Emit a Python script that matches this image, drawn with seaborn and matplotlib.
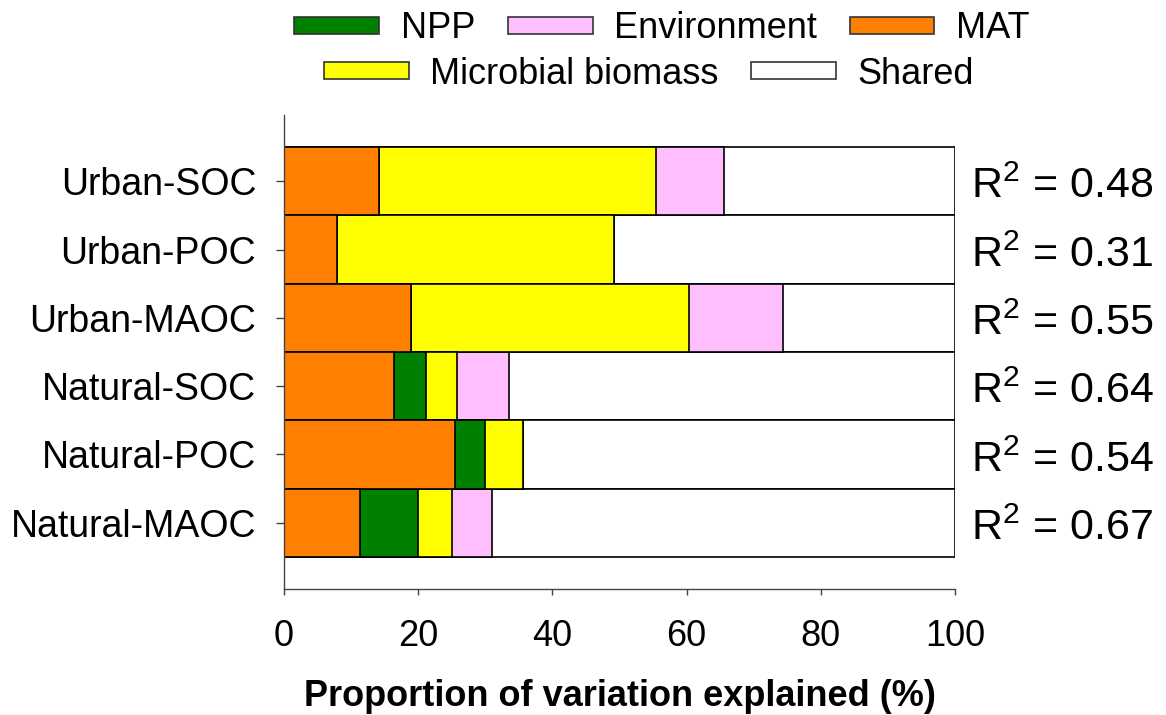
import matplotlib
matplotlib.use("Agg")
import matplotlib.pyplot as plt
from matplotlib.patches import Patch
import numpy as np
import pandas as pd
import seaborn as sns

# Variance partitioning results (% of variation explained)
categories = ["Urban-SOC", "Urban-POC", "Urban-MAOC",
              "Natural-SOC", "Natural-POC", "Natural-MAOC"]
mat = [14.1, 7.9, 18.9, 16.4, 25.5, 11.4]
npp = [0.0, 0.0, 0.0, 4.8, 4.4, 8.5]
microbial = [41.3, 41.3, 41.4, 4.6, 5.7, 5.1]
environment = [10.2, 0.0, 14.0, 7.7, 0.0, 6.0]
shared = [34.4, 50.8, 25.7, 66.5, 64.4, 69.0]
r2_labels = ["0.48", "0.31", "0.55", "0.64", "0.54", "0.67"]

colors = {
    "NPP": "#008000",
    "Environment": "#FFBFFF",
    "MAT": "#FF8000",
    "Microbial biomass": "#FFFF00",
    "Shared": "#FFFFFF",
}

sns.set_style("ticks")
plt.rcParams["font.family"] = ["Liberation Sans", "DejaVu Sans"]
plt.rcParams["mathtext.fontset"] = "custom"
plt.rcParams["mathtext.rm"] = "Liberation Sans"
plt.rcParams["mathtext.it"] = "Liberation Sans:italic"
plt.rcParams["mathtext.bf"] = "Liberation Sans:bold"
plt.rcParams["text.color"] = "black"
plt.rcParams["axes.labelcolor"] = "black"
plt.rcParams["xtick.labelcolor"] = "black"
plt.rcParams["ytick.labelcolor"] = "black"

fig = plt.figure(figsize=(11.66, 7.15), dpi=100)
ax = fig.add_axes([284 / 1166, 1 - 589 / 715, (955 - 284) / 1166, (589 - 115) / 715])

# Stack order from the axis outward: MAT, NPP, microbial biomass, environment, shared
segments = [("MAT", mat), ("NPP", npp), ("Microbial biomass", microbial),
            ("Environment", environment), ("Shared", shared)]
cum = np.cumsum(np.array([vals for _, vals in segments]), axis=0)

# Draw cumulative totals from the longest to the shortest so each segment shows
for k in range(len(segments) - 1, -1, -1):
    name = segments[k][0]
    df = pd.DataFrame({"category": categories, "value": cum[k]})
    sns.barplot(data=df, x="value", y="category", orient="h", order=categories,
                color=colors[name], saturation=1, width=1.0, errorbar=None,
                edgecolor="black", linewidth=1.2, ax=ax)

ax.set_xlim(0, 100)
ax.set_ylim(5.97, -0.97)
ax.set_xticks(np.arange(0, 101, 20))
ax.set_xlabel("Proportion of variation explained (%)", fontsize=26,
              fontweight="bold", labelpad=18)
ax.set_ylabel("")
ax.tick_params(axis="x", labelsize=26, length=4.5, width=1, pad=17, color="#444444")
ax.tick_params(axis="y", labelsize=27, length=6, width=1, pad=14, color="#444444")
for s in ["top", "right"]:
    ax.spines[s].set_visible(False)
for s in ["left", "bottom"]:
    ax.spines[s].set_linewidth(1.0)
    ax.spines[s].set_color("#444444")

# R² annotations beside each bar
for i, r2 in enumerate(r2_labels):
    ax.text(102.4, i + 0.25, "R$^2$ = " + r2, fontsize=31, va="baseline",
            ha="left", clip_on=False)

# Two-row legend on top
row1 = ["NPP", "Environment", "MAT"]
row2 = ["Microbial biomass", "Shared"]
legend_kw = dict(frameon=False, fontsize=26, handlelength=2.35, handleheight=0.37,
                 handletextpad=0.6, columnspacing=0.9, borderpad=0, loc="center")
h1 = [Patch(facecolor=colors[n], edgecolor="#333333", linewidth=1.2) for n in row1]
h2 = [Patch(facecolor=colors[n], edgecolor="#333333", linewidth=1.2) for n in row2]
fig.legend(h1, row1, ncol=3, bbox_to_anchor=(662 / 1166, 1 - 29 / 715), **legend_kw)
fig.legend(h2, row2, ncol=2, bbox_to_anchor=(649 / 1166, 1 - 74 / 715), **legend_kw)

fig.savefig("out.png", dpi=100)
